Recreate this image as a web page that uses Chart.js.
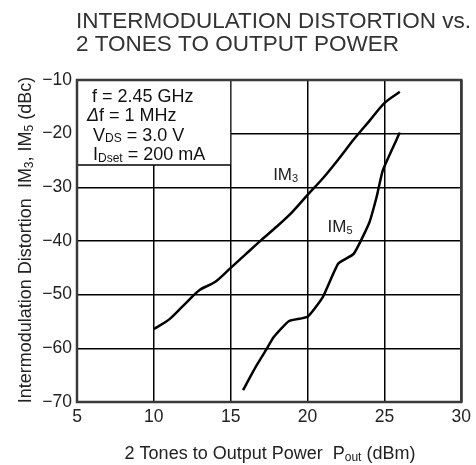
<!DOCTYPE html>
<html><head><meta charset="utf-8">
<script src="https://cdn.jsdelivr.net/npm/chart.js@4"></script>
<style>html,body{margin:0;padding:0;background:#fff}#wrap{width:476px;height:465px}</style>
</head><body><div id="wrap"><canvas id="c" width="476" height="465"></canvas></div>
<script>
const xTicks = [5, 10, 15, 20, 25, 30];
const yTicks = [-70, -60, -50, -40, -30, -20, -10];
const im3X = [10, 11, 12, 13, 14, 15, 16, 17, 18, 19, 20, 21, 22, 23, 24, 25, 26];
const im3Y = [-56.4, -54.6, -51.8, -49.1, -47.6, -45.0, -42.4, -39.8, -37.3, -34.6, -31.4, -28.3, -24.8, -21.1, -17.7, -14.3, -12.2];
const im5X = [15.8, 16.7, 17.3, 17.8, 18.8, 20.0, 21.0, 22.0, 23.0, 24.0, 24.5, 24.9, 26.0];
const im5Y = [-67.8, -63.1, -60.3, -57.9, -54.9, -54.1, -50.4, -44.2, -42.4, -36.7, -31.7, -26.8, -19.8];
const titleLines = ["INTERMODULATION DISTORTION vs.", "2 TONES TO OUTPUT POWER"];
const condLines = [
  [["f = 2.45 GHz", 0]],
  [["Δ", 2], ["f = 1 MHz", 0]],
  [["V", 0], ["DS", 1], [" = 3.0 V", 0]],
  [["I", 0], ["Dset", 1], [" = 200 mA", 0]]
];
const yTitle = [["Intermodulation Distortion  IM", 0], ["3", 1], [", IM", 0], ["5", 1], [" (dBc)", 0]];
const xTitle = [["2 Tones to Output Power  P", 0], ["out", 1], [" (dBm)", 0]];
const curveLabels = [["IM", "3", 17.76, -28.6], ["IM", "5", 21.3, -38.3]];

const FONT = '"Liberation Sans", Arial, sans-serif';
function pts(xs, ys) { return xs.map((x, i) => ({x: x, y: ys[i]})); }

function drawRuns(ctx, runs, x, y, size) {
  let cx = x;
  for (const [t, kind] of runs) {
    if (kind === 1) {
      ctx.font = Math.round(size * 0.66) + 'px ' + FONT;
      ctx.fillText(t, cx, y + size * 0.1);
    } else if (kind === 2) {
      ctx.font = 'italic ' + size + 'px ' + FONT;
      ctx.fillText(t, cx, y);
    } else {
      ctx.font = size + 'px ' + FONT;
      ctx.fillText(t, cx, y);
    }
    cx += ctx.measureText(t).width;
  }
  return cx - x;
}
function runsWidth(ctx, runs, size) {
  let w = 0;
  for (const [t, kind] of runs) {
    ctx.font = (kind === 1 ? Math.round(size * 0.66) + 'px ' : (kind === 2 ? 'italic ' + size + 'px ' : size + 'px ')) + FONT;
    w += ctx.measureText(t).width;
  }
  return w;
}

const deco = {
  id: 'deco',
  beforeDatasetsDraw(chart) {
    const ctx = chart.ctx, xs = chart.scales.x, ys = chart.scales.y;
    const l = xs.left, t = ys.top;
    const r = xs.getPixelForValue(15), b = 165;
    ctx.save();
    ctx.fillStyle = '#fff';
    ctx.fillRect(l, t, r - l - 0.5, b - t);
    ctx.strokeStyle = '#000';
    ctx.lineWidth = 1.5;
    ctx.beginPath(); ctx.moveTo(l, b); ctx.lineTo(r, b); ctx.stroke();
    ctx.fillStyle = '#111';
    ctx.textBaseline = 'alphabetic';
    ctx.textAlign = 'left';
    const starts = [92, 87, 93, 93];
    condLines.forEach((runs, i) => drawRuns(ctx, runs, starts[i], 102 + i * 19.3, 18));
    ctx.restore();
  },
  afterDraw(chart) {
    const ctx = chart.ctx, xs = chart.scales.x, ys = chart.scales.y;
    ctx.save();
    ctx.strokeStyle = '#3a3a3a';
    ctx.lineWidth = 2.5;
    ctx.strokeRect(xs.left, ys.top, xs.right - xs.left, ys.bottom - ys.top);
    ctx.fillStyle = '#333';
    ctx.textAlign = 'left';
    ctx.textBaseline = 'alphabetic';
    ctx.font = '22.5px ' + FONT;
    ctx.fillText(titleLines[0], 76, 28);
    ctx.fillText(titleLines[1], 76, 51);
    ctx.fillStyle = '#222';
    for (const [a, s, vx, vy] of curveLabels) {
      drawRuns(ctx, [[a, 0], [s, 1]], xs.getPixelForValue(vx), ys.getPixelForValue(vy), 17);
    }
    const xw = runsWidth(ctx, xTitle, 18);
    drawRuns(ctx, xTitle, 270 - xw / 2, 459, 18);
    const yw = runsWidth(ctx, yTitle, 18);
    ctx.translate(31, 240);
    ctx.rotate(-Math.PI / 2);
    drawRuns(ctx, yTitle, -yw / 2, 0, 18);
    ctx.restore();
  }
};

new Chart(document.getElementById('c'), {
  type: 'scatter',
  data: {
    datasets: [
      {label: 'IM3', data: pts(im3X, im3Y), showLine: true, borderColor: '#000', borderWidth: 2.5, pointRadius: 0, tension: 0.3, fill: false},
      {label: 'IM5', data: pts(im5X, im5Y), showLine: true, borderColor: '#000', borderWidth: 2.5, pointRadius: 0, tension: 0.15, fill: false}
    ]
  },
  options: {
    responsive: false,
    animation: false,
    layout: {padding: {top: 80, right: 11, left: 0, bottom: 0}},
    plugins: {legend: {display: false}, tooltip: {enabled: false}, title: {display: false}},
    scales: {
      x: {
        type: 'linear', min: 5, max: 30,
        afterBuildTicks: (s) => { s.ticks = xTicks.map(v => ({value: v})); },
        afterFit: (s) => { s.height = 63; },
        grid: {color: '#000', lineWidth: 1.5, drawTicks: false},
        border: {display: false},
        ticks: {color: '#222', font: {size: 17.5, family: FONT}, padding: 5, callback: (v) => String(v)}
      },
      y: {
        type: 'linear', min: -70, max: -10,
        afterBuildTicks: (s) => { s.ticks = yTicks.map(v => ({value: v})); },
        afterFit: (s) => { s.width = 77; },
        grid: {color: '#000', lineWidth: 1.5, drawTicks: false},
        border: {display: false},
        ticks: {color: '#222', font: {size: 17.5, family: FONT}, padding: 5, callback: (v) => '\u2212' + Math.abs(v)}
      }
    }
  },
  plugins: [deco]
});
</script></body></html>
